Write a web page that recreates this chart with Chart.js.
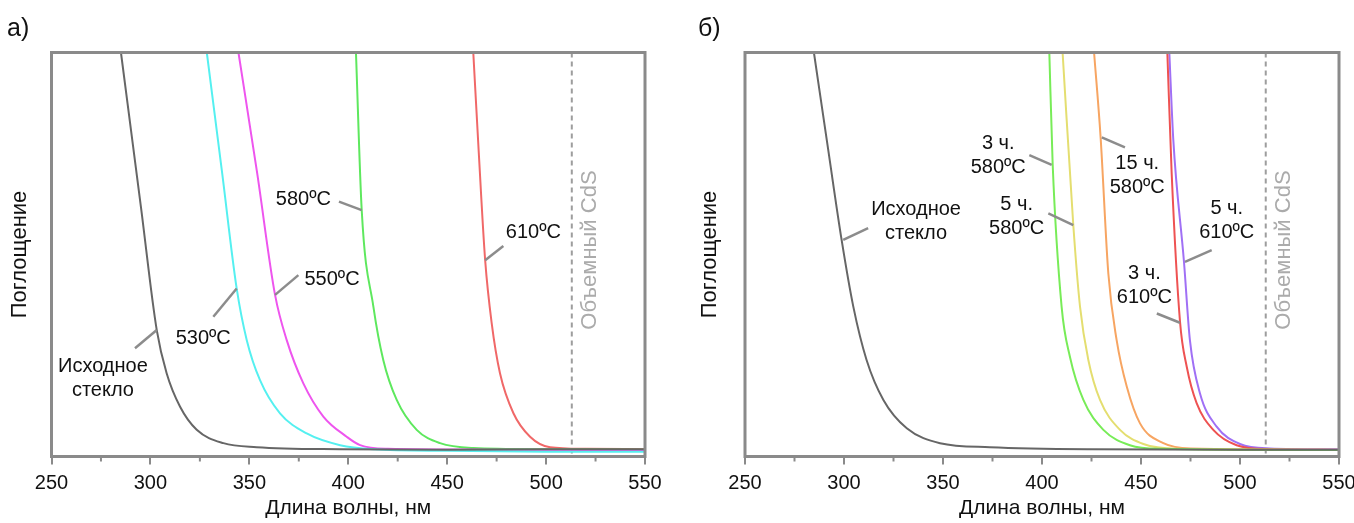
<!DOCTYPE html>
<html>
<head>
<meta charset="utf-8">
<script src="https://cdn.jsdelivr.net/npm/chart.js@4.4.1/dist/chart.umd.min.js"></script>
<style>
  body { margin: 0; background: #fff; width: 1354px; height: 523px; overflow: hidden; position: relative; }
  .panel { position: absolute; top: 0; width: 677px; height: 523px; }
</style>
</head>
<body>
<div class="panel" style="left:0"><canvas id="chartA" width="677" height="523"></canvas></div>
<div class="panel" style="left:677px"><canvas id="chartB" width="677" height="523"></canvas></div>
<script>
// [длина волны, нм ; поглощение в долях высоты рамки]
// панель а)
const glassA = [[285.1, 1.0], [295.2, 0.618], [303.2, 0.313], [308.2, 0.206], [315, 0.123], [323.4, 0.066],
  [336.9, 0.033], [353.7, 0.023], [395.9, 0.018], [450, 0.017], [500, 0.018], [550, 0.018]];
const t530 = [[328.5, 1.0], [336.3, 0.70], [343.6, 0.416], [348.7, 0.288], [355.4, 0.189], [365.5, 0.107],
  [379, 0.057], [395.9, 0.028], [412.8, 0.018], [450, 0.014], [500, 0.012], [550, 0.012]];
const t550 = [[344.5, 1.0], [354, 0.70], [363, 0.40], [368.9, 0.288], [377.3, 0.181], [387.4, 0.099],
  [399.2, 0.049], [406, 0.028], [420, 0.019], [470, 0.017], [550, 0.016]];
const t580 = [[403.9, 1.0], [406.8, 0.61], [412.7, 0.371], [417.7, 0.239], [424.5, 0.14], [434.6, 0.066],
  [446.4, 0.033], [463.2, 0.021], [500, 0.018], [550, 0.017]];
const t610 = [[463.2, 1.0], [466, 0.75], [469.2, 0.486], [472.5, 0.33], [476.7, 0.206], [483.5, 0.107],
  [491.9, 0.049], [502, 0.023], [520, 0.019], [550, 0.018]];

// панель б)
const glassB = [[284.8, 1.0], [292, 0.76], [298.8, 0.536], [304.7, 0.371], [311.4, 0.239], [319.9, 0.14],
  [331.7, 0.07], [348.5, 0.033], [373.7, 0.023], [424, 0.018], [500, 0.017], [550, 0.017]];
const h3t580 = [[403.7, 1.0], [405.4, 0.722], [409.9, 0.371], [414.1, 0.247], [420.9, 0.14], [431, 0.066],
  [444.4, 0.028], [460, 0.019], [550, 0.016]];
const h5t580 = [[410.4, 1.0], [415.8, 0.573], [419.2, 0.371], [423.4, 0.239], [429.3, 0.14], [439.4, 0.066],
  [451.2, 0.031], [468, 0.019], [550, 0.016]];
const h15t580 = [[426.3, 1.0], [429.6, 0.79], [433.5, 0.453], [437.7, 0.288], [442.8, 0.173], [449.5, 0.082],
  [461.3, 0.033], [475, 0.02], [550, 0.017]];
const h3t610 = [[463.3, 1.0], [465.5, 0.70], [469.7, 0.334], [473.1, 0.222], [478.1, 0.132], [486.5, 0.066],
  [498.3, 0.028], [515, 0.018], [550, 0.016]];
const h5t610 = [[464.3, 1.0], [466.3, 0.785], [471.7, 0.482], [474.7, 0.288], [479.8, 0.156], [488.2, 0.074],
  [500, 0.031], [515, 0.02], [550, 0.018]];

const majorTicks = [250, 300, 350, 400, 450, 500, 550];
const minorTicks = [275, 325, 375, 425, 475, 525];
const bulkCdS = 513;

// подписи: текст, центр подписи и выноска (в единицах осей)
const notesA = [
  { text: ['Исходное', 'стекло'], at: [276, 0.193], from: [303.2, 0.313], to: [292.2, 0.268] },
  { text: ['530ºC'], at: [326.7, 0.293], from: [343.6, 0.416], to: [331.8, 0.346] },
  { text: ['550ºC'], at: [391.8, 0.437], from: [363, 0.40], to: [374.8, 0.449] },
  { text: ['580ºC'], at: [377.3, 0.637], from: [406.8, 0.61], to: [395.3, 0.631] },
  { text: ['610ºC'], at: [493.6, 0.554], from: [469.2, 0.486], to: [478.4, 0.521] }
];
const notesB = [
  { text: ['Исходное', 'стекло'], at: [336.4, 0.582], from: [299.6, 0.536], to: [312.2, 0.565] },
  { text: ['3 ч.', '580ºC'], at: [377.9, 0.746], from: [404.9, 0.722], to: [393.6, 0.746] },
  { text: ['5 ч.', '580ºC'], at: [387.2, 0.595], from: [415.8, 0.573], to: [403.2, 0.602] },
  { text: ['15 ч.', '580ºC'], at: [448.1, 0.695], from: [430.2, 0.79], to: [441.9, 0.765] },
  { text: ['5 ч.', '610ºC'], at: [493.3, 0.583], from: [472.2, 0.482], to: [485.7, 0.511] },
  { text: ['3 ч.', '610ºC'], at: [451.7, 0.4225], from: [469.7, 0.331], to: [458, 0.354] }
];

const FONT = '"Liberation Sans", Arial, sans-serif';

// рамка, мелкие риски, пунктир CdS, выноски и подписи
const panelDecor = {
  id: 'panelDecor',
  beforeDatasetsDraw(chart, args, opts) {
    const { ctx, chartArea: a, scales: { x } } = chart;
    const bx = x.getPixelForValue(bulkCdS);
    ctx.save();
    ctx.strokeStyle = '#9d9d9d';
    ctx.lineWidth = 2;
    ctx.setLineDash([5, 4]);
    ctx.beginPath();
    ctx.moveTo(bx, a.top);
    ctx.lineTo(bx, a.bottom);
    ctx.stroke();
    ctx.restore();
  },
  afterDatasetsDraw(chart, args, opts) {
    const { ctx, chartArea: a, scales: { x, y } } = chart;
    ctx.save();
    ctx.strokeStyle = '#8c8c8c';
    ctx.lineWidth = 2.5;
    opts.notes.forEach(n => {
      ctx.beginPath();
      ctx.moveTo(x.getPixelForValue(n.from[0]), y.getPixelForValue(n.from[1]));
      ctx.lineTo(x.getPixelForValue(n.to[0]), y.getPixelForValue(n.to[1]));
      ctx.stroke();
    });

    ctx.fillStyle = '#111';
    ctx.font = '20px ' + FONT;
    ctx.textAlign = 'center';
    ctx.textBaseline = 'middle';
    opts.notes.forEach(n => {
      const cx = x.getPixelForValue(n.at[0]);
      const cy = y.getPixelForValue(n.at[1]);
      const y0 = cy - (n.text.length - 1) * 12;
      n.text.forEach((t, i) => ctx.fillText(t, cx, y0 + i * 24));
    });

    // Объемный CdS
    ctx.save();
    ctx.translate(x.getPixelForValue(bulkCdS) + 18, y.getPixelForValue(0.511));
    ctx.rotate(-Math.PI / 2);
    ctx.fillStyle = '#ababab';
    ctx.font = '22px ' + FONT;
    ctx.fillText('Объемный CdS', 0, 0);
    ctx.restore();

    // рамка
    ctx.strokeStyle = '#8a8a8a';
    ctx.lineWidth = 3;
    ctx.strokeRect(a.left, a.top, a.right - a.left, a.bottom - a.top);

    // мелкие риски
    ctx.lineWidth = 2;
    minorTicks.forEach(v => {
      const px = x.getPixelForValue(v);
      ctx.beginPath();
      ctx.moveTo(px, a.bottom);
      ctx.lineTo(px, a.bottom + 5);
      ctx.stroke();
    });

    ctx.fillStyle = '#111';
    ctx.font = '25px ' + FONT;
    ctx.textAlign = 'left';
    ctx.textBaseline = 'alphabetic';
    ctx.fillText(opts.letter, opts.letterX, 36);
    ctx.restore();
  }
};

function makeChart(id, series, cfg) {
  new Chart(document.getElementById(id), {
    type: 'line',
    data: {
      datasets: series.map(s => ({
        data: s.pts.map(p => ({ x: p[0], y: p[1] })),
        borderColor: s.color,
        borderWidth: 2,
        pointRadius: 0,
        cubicInterpolationMode: 'monotone',
        fill: false
      }))
    },
    options: {
      responsive: false,
      animation: false,
      layout: { padding: { top: 52.5, right: cfg.padRight, bottom: 0, left: 0 } },
      plugins: {
        legend: { display: false },
        tooltip: { enabled: false },
        panelDecor: { notes: cfg.notes, letter: cfg.letter, letterX: cfg.letterX }
      },
      scales: {
        x: {
          type: 'linear',
          min: 250,
          max: 550,
          afterBuildTicks: s => { s.ticks = majorTicks.map(v => ({ value: v })); },
          afterFit: s => { s.height = 66.5; s.paddingLeft = 0; s.paddingRight = 0; },
          ticks: { color: '#111', font: { size: 20, family: FONT }, padding: 7, maxRotation: 0 },
          grid: { drawOnChartArea: false, drawTicks: true, tickLength: 8, color: '#8a8a8a', lineWidth: 2 },
          border: { display: false },
          title: {
            display: true,
            text: 'Длина волны, нм',
            color: '#111',
            font: { size: 21, family: FONT },
            padding: { top: 0, bottom: 2 }
          }
        },
        y: {
          min: 0,
          max: 1,
          afterFit: s => { s.width = cfg.yWidth; },
          ticks: { display: false },
          grid: { display: false },
          border: { display: false },
          title: {
            display: true,
            text: 'Поглощение',
            color: '#111',
            font: { size: 22, family: FONT },
            padding: { top: cfg.yTitlePad, bottom: 0 }
          }
        }
      }
    },
    plugins: [panelDecor]
  });
}

makeChart('chartA', [
  { pts: glassA, color: '#666666' },
  { pts: t530, color: '#55f0f0' },
  { pts: t550, color: '#ee55ee' },
  { pts: t580, color: '#5ee85e' },
  { pts: t610, color: '#f06868' }
], { notes: notesA, letter: 'а)', letterX: 7, padRight: 32, yWidth: 51.5, yTitlePad: 7 });

makeChart('chartB', [
  { pts: glassB, color: '#666666' },
  { pts: h3t580, color: '#78ec58' },
  { pts: h5t580, color: '#e4de70' },
  { pts: h15t580, color: '#f7a562' },
  { pts: h3t610, color: '#ee5252' },
  { pts: h5t610, color: '#a070f5' }
], { notes: notesB, letter: 'б)', letterX: 21, padRight: 15, yWidth: 68, yTitlePad: 20 });
</script>
</body>
</html>
